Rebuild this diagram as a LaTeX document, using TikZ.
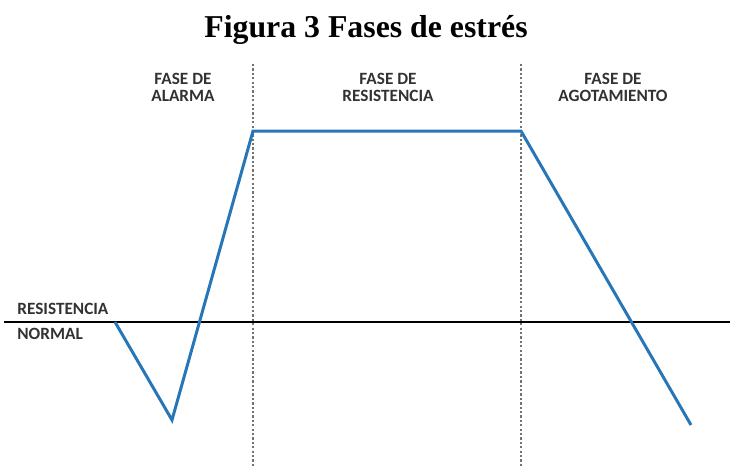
\documentclass[tikz,border=0pt]{standalone}
\usepackage{fontspec}
\setmainfont{Liberation Serif}
\newfontfamily\labelfont{Carlito}
\usepackage{xcolor}
\usepackage{tikz}
\definecolor{stressblue}{RGB}{38,118,184}
\definecolor{labelgray}{RGB}{50,50,50}
\tikzset{
	phase/.style = {inner sep=0pt, align=center, text=labelgray, font=\labelfont\bfseries\fontsize{9.8}{9.6}\selectfont},
	divider/.style = {black!55, line width=1.1pt, dash pattern=on 1.3pt off 1.2pt},
	stressline/.style = {stressblue, line width=1.7pt, line join=miter}
}

\begin{document}
\begin{tikzpicture}[x=0.02cm, y=-0.02cm]
	\useasboundingbox (0,0) rectangle (730,468);
	
	\node[anchor=base, inner sep=0pt, font=\bfseries\fontsize{18.1}{20}\selectfont] (title) at (366,37) {Figura 3 Fases de estrés};
	
	% phase labels
	\node[phase, anchor=north] (alarma) at (183,73) {FASE DE\\ALARMA};
	\node[phase, anchor=north] (resist) at (388,73) {FASE DE\\RESISTENCIA};
	\node[phase, anchor=north] (agot) at (613,73) {FASE DE\\AGOTAMIENTO};
	
	\node[phase, anchor=south west] (resnorm) at (17,315) {RESISTENCIA};
	\node[phase, anchor=south west] (normal) at (17,340) {NORMAL};
	
	% axis and dividers
	\coordinate (axisl) at (4,322);
	\coordinate (axisr) at (730,322);
	\coordinate (d1top) at (253,64);
	\coordinate (d1bot) at (253,468);
	\coordinate (d2top) at (521,64);
	\coordinate (d2bot) at (521,468);
	
	\draw[divider] (d1top) -- (d1bot);
	\draw[divider] (d2top) -- (d2bot);
	\draw[black, line width=0.9pt] (axisl) -- (axisr);
	
	% stress curve
	\coordinate (start) at (115,322);
	\coordinate (low) at (172,420);
	\coordinate (peak) at (253,131);
	\coordinate (platend) at (521,131);
	\coordinate (finish) at (691,425);
	
	\draw[stressline] (start) -- (low) -- (peak) -- (platend) -- (finish);
	
\end{tikzpicture}
\end{document}
